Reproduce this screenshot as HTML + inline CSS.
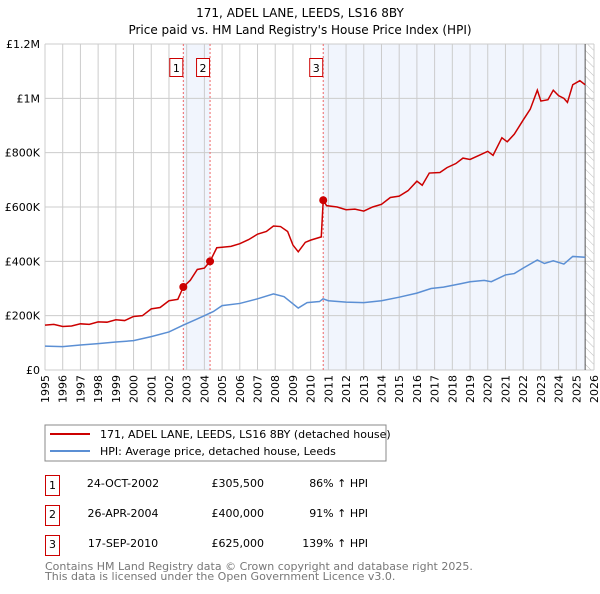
<!DOCTYPE html>
<html><head><meta charset="utf-8"><style>
body{margin:0;background:#fff;font-family:"DejaVu Sans","Liberation Sans",sans-serif;}
svg text{font-family:"DejaVu Sans","Liberation Sans",sans-serif;}
</style></head><body>
<svg id="chart" width="600" height="590" xmlns="http://www.w3.org/2000/svg">
<defs><pattern id="hatch" width="6" height="6" patternUnits="userSpaceOnUse" patternTransform="rotate(-45)"><line x1="0" y1="0" x2="0" y2="6" stroke="#bbb" stroke-width="1"/></pattern></defs>
<text x="300" y="17" text-anchor="middle" font-size="12">171, ADEL LANE, LEEDS, LS16 8BY</text>
<text x="300" y="34" text-anchor="middle" font-size="12">Price paid vs. HM Land Registry's House Price Index (HPI)</text>
<g id="plot"></g>
<rect x="45" y="425" width="341" height="36" fill="#fff" stroke="#888"/>
<line x1="50" y1="434" x2="90" y2="434" stroke="#cc0000" stroke-width="2"/>
<text x="100" y="438" font-size="11">171, ADEL LANE, LEEDS, LS16 8BY (detached house)</text>
<line x1="50" y1="451" x2="90" y2="451" stroke="#5b8fd4" stroke-width="2"/>
<text x="100" y="455" font-size="11">HPI: Average price, detached house, Leeds</text>
<g font-size="11">
<rect x="45.5" y="475.5" width="14" height="20" fill="none" stroke="#cc0000"/><text x="52.5" y="489" text-anchor="middle">1</text>
<text x="123" y="487" text-anchor="middle">24-OCT-2002</text><text x="264" y="487" text-anchor="end">£305,500</text><text x="368" y="487" text-anchor="end">86% ↑ HPI</text>
<rect x="45.5" y="505.5" width="14" height="20" fill="none" stroke="#cc0000"/><text x="52.5" y="518" text-anchor="middle">2</text>
<text x="123" y="517" text-anchor="middle">26-APR-2004</text><text x="264" y="517" text-anchor="end">£400,000</text><text x="368" y="517" text-anchor="end">91% ↑ HPI</text>
<rect x="45.5" y="535.5" width="14" height="20" fill="none" stroke="#cc0000"/><text x="52.5" y="548" text-anchor="middle">3</text>
<text x="123" y="547" text-anchor="middle">17-SEP-2010</text><text x="264" y="547" text-anchor="end">£625,000</text><text x="368" y="547" text-anchor="end">139% ↑ HPI</text>
</g>
<text x="45" y="570" font-size="11" fill="#777">Contains HM Land Registry data © Crown copyright and database right 2025.</text>
<text x="45" y="580" font-size="11" fill="#777">This data is licensed under the Open Government Licence v3.0.</text>
</svg>
<script>
const years=[1995,1996,1997,1998,1999,2000,2001,2002,2003,2004,2005,2006,2007,2008,2009,2010,2011,2012,2013,2014,2015,2016,2017,2018,2019,2020,2021,2022,2023,2024,2025,2026];
const yTicks=[0,200000,400000,600000,800000,1000000,1200000];
const yTickLabels=["£0","£200K","£400K","£600K","£800K","£1M","£1.2M"];
const propT=[1995,1995.5,1996,1996.5,1997,1997.5,1998,1998.5,1999,1999.5,2000,2000.5,2001,2001.5,2002,2002.5,2002.81,2003.2,2003.6,2004,2004.32,2004.7,2005,2005.5,2006,2006.5,2007,2007.5,2007.9,2008.3,2008.7,2009,2009.3,2009.7,2010,2010.6,2010.71,2010.9,2011.5,2012,2012.5,2013,2013.5,2014,2014.5,2015,2015.5,2016,2016.3,2016.7,2017.3,2017.7,2018.2,2018.6,2019,2019.5,2020,2020.3,2020.8,2021.1,2021.5,2022,2022.4,2022.8,2023,2023.4,2023.7,2024,2024.3,2024.5,2024.8,2025.2,2025.5];
const propV=[165,168,160,162,170,168,177,176,185,182,197,200,225,230,255,260,305.5,330,370,375,400,450,452,455,465,480,500,510,530,528,510,460,435,470,478,490,625,605,600,590,592,585,600,610,635,640,660,695,680,725,727,745,760,780,775,790,805,790,855,840,868,920,960,1030,990,995,1030,1010,1000,985,1050,1065,1050];
const hpiT=[1995,1996,1997,1998,1999,2000,2001,2002,2002.8,2003.5,2004,2004.5,2005,2006,2007,2007.9,2008.5,2009.3,2009.8,2010.5,2010.7,2011,2012,2013,2014,2015,2016,2016.8,2017.5,2018.5,2019,2019.8,2020.2,2021,2021.5,2022,2022.8,2023.2,2023.7,2024.3,2024.8,2025.5];
const hpiV=[88,86,92,97,103,108,123,140,165,185,200,215,237,245,262,280,270,228,248,252,262,255,250,248,255,268,283,300,305,318,325,330,325,350,355,375,405,392,402,390,418,415];
const saleT=[2002.81,2004.32,2010.71];
const saleV=[305.5,400,625];
const saleLabels=["1","2","3"];
const NS="http://www.w3.org/2000/svg";
const X0=45,X1=594,Y0=370,Y1=44;
const xs=t=>X0+(t-1995)/(2026-1995)*(X1-X0);
const ys=v=>Y0-v/1200000*(Y0-Y1);
const g=document.getElementById('plot');
function mk(tag,attrs){const e=document.createElementNS(NS,tag);for(const k in attrs)e.setAttribute(k,attrs[k]);g.appendChild(e);return e;}
let e;
e=mk('rect',{x:xs(saleT[0]),y:Y1,width:xs(saleT[1])-xs(saleT[0]),height:Y0-Y1,fill:'#eef3fc',opacity:0.8});


e=mk('rect',{x:xs(saleT[2]),y:Y1,width:xs(2025.5)-xs(saleT[2]),height:Y0-Y1,fill:'#eef3fc',opacity:0.8});


e=mk('rect',{x:xs(2025.5),y:Y1,width:X1-xs(2025.5),height:Y0-Y1,fill:'url(#hatch)'});


years.forEach(y=>{
 e=mk('line',{x1:xs(y),x2:xs(y),y1:Y1,y2:Y0,stroke:'#ccc'});
 
 
 e=mk('text',{transform:`translate(${xs(y)+4},${Y0+5}) rotate(-90)`,'text-anchor':'end','font-size':11});
 e.textContent=y;
 
 
});
yTicks.forEach((v,i)=>{
 e=mk('line',{x1:X0,x2:X1,y1:ys(v),y2:ys(v),stroke:'#ccc'});
 
 
 e=mk('text',{x:X0-5,y:ys(v)+4,'text-anchor':'end','font-size':11});
 e.textContent=yTickLabels[i];
 
 
});
e=mk('line',{x1:xs(2025.5),x2:xs(2025.5),y1:Y1,y2:Y0,stroke:'#555'});


saleT.forEach((t,i)=>{
 e=mk('line',{x1:xs(t),x2:xs(t),y1:Y1,y2:Y0,stroke:'#e66',  'stroke-dasharray':'2,2'});
 
 
 e=mk('rect',{x:xs(t)-13.5,y:58.5,width:13,height:18,fill:'#fff',stroke:'#cc0000'});
 
 
 e=mk('text',{x:xs(t)-7,y:72,'text-anchor':'middle','font-size':11});
 e.textContent=saleLabels[i];
 
 
});
e=mk('polyline',{points:hpiT.map((t,i)=>xs(t)+','+ys(hpiV[i]*1000)).join(' '),fill:'none',stroke:'#5b8fd4','stroke-width':1.5});


e=mk('polyline',{points:propT.map((t,i)=>xs(t)+','+ys(propV[i]*1000)).join(' '),fill:'none',stroke:'#cc0000','stroke-width':1.5});


saleT.forEach((t,i)=>{
 e=mk('circle',{cx:xs(t),cy:ys(saleV[i]*1000),r:4,fill:'#cc0000'});
 
 
});
</script>
</body></html>
